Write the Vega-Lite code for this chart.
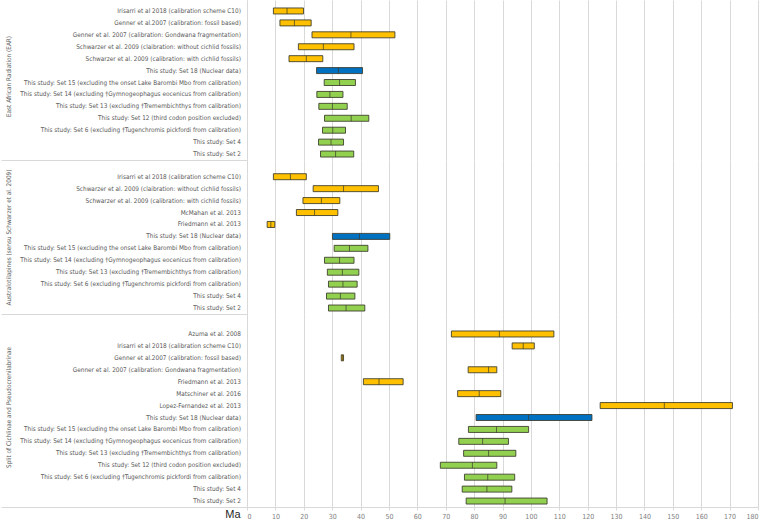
{
  "$schema": "https://vega.github.io/schema/vega-lite/v6.json",
  "autosize": {"type": "pad"},
  "padding": 0,
  "background": "#ffffff",
  "config": {"view": {"stroke": null}},
  "bounds": "flush",
  "spacing": 0,
  "resolve": {"scale": {"y": "independent"}},
  "datasets": {
    "rows": [
      {"group": "EAR", "label": "Irisarri et al 2018 (calibration scheme C10)", "type": "pub", "lo": 9.3, "med": 14.1, "hi": 19.9},
      {"group": "EAR", "label": "Genner et al.2007 (calibration: fossil based)", "type": "pub", "lo": 11.6, "med": 16.7, "hi": 22.6},
      {"group": "EAR", "label": "Genner et al. 2007 (calibration: Gondwana fragmentation)", "type": "pub", "lo": 22.9, "med": 36.6, "hi": 52.1},
      {"group": "EAR", "label": "Schwarzer et al. 2009 (claibration: without cichlid fossils)", "type": "pub", "lo": 18.1, "med": 26.9, "hi": 37.7},
      {"group": "EAR", "label": "Schwarzer et al. 2009 (calibration: with cichlid fossils)", "type": "pub", "lo": 14.8, "med": 20.9, "hi": 26.7},
      {"group": "EAR", "label": "This study: Set 18 (Nuclear data)", "type": "nuc", "lo": 24.5, "med": 32.2, "hi": 40.7},
      {"group": "EAR", "label": "This study: Set 15 (excluding the onset Lake Barombi Mbo from calibration)", "type": "set", "lo": 27.2, "med": 32.6, "hi": 38.2},
      {"group": "EAR", "label": "This study: Set 14 (excluding †Gymnogeophagus eocenicus from calibration)", "type": "set", "lo": 24.6, "med": 29.2, "hi": 33.8},
      {"group": "EAR", "label": "This study: Set 13 (excluding †Tremembichthys from calibration)", "type": "set", "lo": 25.3, "med": 30.1, "hi": 35.3},
      {"group": "EAR", "label": "This study: Set 12 (third codon position excluded)", "type": "set", "lo": 27.3, "med": 36.7, "hi": 42.9},
      {"group": "EAR", "label": "This study: Set 6 (excluding †Tugenchromis pickfordi from calibration)", "type": "set", "lo": 26.6, "med": 30.2, "hi": 34.7},
      {"group": "EAR", "label": "This study: Set 4", "type": "set", "lo": 25.2, "med": 29.6, "hi": 34.0},
      {"group": "EAR", "label": "This study: Set 2", "type": "set", "lo": 25.9, "med": 31.2, "hi": 37.6},
      {"group": "AUS", "label": "Irisarri et al 2018 (calibration scheme C10)", "type": "pub", "lo": 9.3, "med": 15.3, "hi": 20.9},
      {"group": "AUS", "label": "Schwarzer et al. 2009 (claibration: without cichlid fossils)", "type": "pub", "lo": 23.3, "med": 34.0, "hi": 46.3},
      {"group": "AUS", "label": "Schwarzer et al. 2009 (calibration: with cichlid fossils)", "type": "pub", "lo": 19.7, "med": 26.2, "hi": 32.7},
      {"group": "AUS", "label": "McMahan et al. 2013", "type": "pub", "lo": 17.4, "med": 23.8, "hi": 32.0},
      {"group": "AUS", "label": "Friedmann et al. 2013", "type": "pub", "lo": 7.1, "med": 8.4, "hi": 9.8},
      {"group": "AUS", "label": "This study: Set 18 (Nuclear data)", "type": "nuc", "lo": 30.1, "med": 39.6, "hi": 50.3},
      {"group": "AUS", "label": "This study: Set 15 (excluding the onset Lake Barombi Mbo from calibration)", "type": "set", "lo": 30.7, "med": 36.1, "hi": 42.6},
      {"group": "AUS", "label": "This study: Set 14 (excluding †Gymnogeophagus eocenicus from calibration)", "type": "set", "lo": 27.3, "med": 32.6, "hi": 37.7},
      {"group": "AUS", "label": "This study: Set 13 (excluding †Tremembichthys from calibration)", "type": "set", "lo": 28.3, "med": 33.6, "hi": 39.4},
      {"group": "AUS", "label": "This study: Set 6 (excluding †Tugenchromis pickfordi from calibration)", "type": "set", "lo": 28.7, "med": 33.8, "hi": 38.8},
      {"group": "AUS", "label": "This study: Set 4", "type": "set", "lo": 28.0, "med": 32.9, "hi": 38.0},
      {"group": "AUS", "label": "This study: Set 2", "type": "set", "lo": 28.7, "med": 34.9, "hi": 41.5},
      {"group": "SPL", "label": "Azuma et al. 2008", "type": "pub", "lo": 72.0, "med": 88.9, "hi": 108.1},
      {"group": "SPL", "label": "Irisarri et al 2018 (calibration scheme C10)", "type": "pub", "lo": 93.4, "med": 97.3, "hi": 101.2},
      {"group": "SPL", "label": "Genner et al.2007 (calibration: fossil based)", "type": "pub", "lo": 33.2, "med": 33.6, "hi": 34.0},
      {"group": "SPL", "label": "Genner et al. 2007 (calibration: Gondwana fragmentation)", "type": "pub", "lo": 77.9, "med": 85.1, "hi": 88.0},
      {"group": "SPL", "label": "Friedmann et al. 2013", "type": "pub", "lo": 41.0, "med": 46.5, "hi": 55.0},
      {"group": "SPL", "label": "Matschiner et al. 2016", "type": "pub", "lo": 74.2, "med": 81.8, "hi": 89.4},
      {"group": "SPL", "label": "Lopez-Fernandez et al. 2013", "type": "pub", "lo": 124.4, "med": 147.0, "hi": 171.0},
      {"group": "SPL", "label": "This study: Set 18 (Nuclear data)", "type": "nuc", "lo": 80.7, "med": 99.2, "hi": 121.5},
      {"group": "SPL", "label": "This study: Set 15 (excluding the onset Lake Barombi Mbo from calibration)", "type": "set", "lo": 78.0, "med": 87.9, "hi": 99.2},
      {"group": "SPL", "label": "This study: Set 14 (excluding †Gymnogeophagus eocenicus from calibration)", "type": "set", "lo": 74.6, "med": 83.0, "hi": 92.1},
      {"group": "SPL", "label": "This study: Set 13 (excluding †Tremembichthys from calibration)", "type": "set", "lo": 76.3, "med": 85.1, "hi": 94.7},
      {"group": "SPL", "label": "This study: Set 12 (third codon position excluded)", "type": "set", "lo": 68.1, "med": 79.4, "hi": 88.0},
      {"group": "SPL", "label": "This study: Set 6 (excluding †Tugenchromis pickfordi from calibration)", "type": "set", "lo": 76.6, "med": 84.8, "hi": 94.3},
      {"group": "SPL", "label": "This study: Set 4", "type": "set", "lo": 75.8, "med": 84.5, "hi": 93.3},
      {"group": "SPL", "label": "This study: Set 2", "type": "set", "lo": 77.2, "med": 90.9, "hi": 105.7}
    ]
  },
  "vconcat": [
    {
      "width": 511, "height": 160,
      "data": {"name": "rows"},
      "transform": [{"filter": "datum.group === 'EAR'"}],
      "encoding": {
        "y": {"field": "label", "type": "nominal", "sort": null,
          "scale": {"paddingInner": 0, "paddingOuter": 0.21, "align": 1},
          "axis": {"title": "East African Radiation (EAR)", "titleX": -238.5, "titleY": 76, "titleAngle": -90, "titleBaseline": "middle", "titleAlign": "center", "titleFontSize": 6.4, "titleFontWeight": "normal", "titleColor": "#595959", "titleFont": "Liberation Sans Narrow, DejaVu Sans Condensed, Roboto, sans-serif",
            "labelFont": "Liberation Sans Narrow, DejaVu Sans Condensed, Roboto, sans-serif", "labelFontSize": 6.4, "labelColor": "#595959", "labelLimit": 300, "labelPadding": -239.4, "labelOverlap": false,
            "ticks": true, "bandPosition": 1, "tickSize": 246, "tickColor": "#d9d9d9", "tickOpacity": {"condition": {"test": "datum.value === 'This study: Set 2'", "value": 1}, "value": 0},
            "domainColor": "#d9d9d9", "grid": false}
        }
      },
      "layer": [
        {"mark": {"type": "bar", "height": 6, "stroke": "#3a3a2a", "strokeWidth": 1, "strokeOpacity": 0.85},
          "encoding": {
            "x": {"field": "lo", "type": "quantitative", "scale": {"domain": [0, 180], "nice": false}, "axis": {"grid": true, "gridColor": "#d9d9d9", "labels": false, "ticks": false, "domain": false, "title": null, "values": [0,10,20,30,40,50,60,70,80,90,100,110,120,130,140,150,160,170,180]}},
            "x2": {"field": "hi"},
            "color": {"field": "type", "type": "nominal", "scale": {"domain": ["pub", "nuc", "set"], "range": ["#FFC000", "#0070C0", "#92D050"]}, "legend": null}
          }},
        {"mark": {"type": "tick", "size": 6, "thickness": 1, "color": "#3a3a2a"},
          "encoding": {"x": {"field": "med", "type": "quantitative", "scale": {"domain": [0, 180], "nice": false}, "axis": {"grid": true, "gridColor": "#d9d9d9", "labels": false, "ticks": false, "domain": false, "title": null, "values": [0,10,20,30,40,50,60,70,80,90,100,110,120,130,140,150,160,170,180]}}}}
      ]
    },
    {
      "width": 511, "height": 154,
      "data": {"name": "rows"},
      "transform": [{"filter": "datum.group === 'AUS'"}],
      "encoding": {
        "y": {"field": "label", "type": "nominal", "sort": null,
          "scale": {"paddingInner": 0, "paddingOuter": 0.45, "align": 1},
          "axis": {"title": "Australotilapines (sensu Schwarzer et al. 2009)", "titleX": -238.5, "titleY": 77, "titleAngle": -90, "titleBaseline": "middle", "titleAlign": "center", "titleFontSize": 6.4, "titleFontWeight": "normal", "titleColor": "#595959", "titleFont": "Liberation Sans Narrow, DejaVu Sans Condensed, Roboto, sans-serif",
            "labelFont": "Liberation Sans Narrow, DejaVu Sans Condensed, Roboto, sans-serif", "labelFontSize": 6.4, "labelColor": "#595959", "labelLimit": 300, "labelPadding": -239.4, "labelOverlap": false,
            "ticks": true, "bandPosition": 1, "tickSize": 246, "tickColor": "#d9d9d9", "tickOpacity": {"condition": {"test": "datum.value === 'This study: Set 2'", "value": 1}, "value": 0},
            "domainColor": "#d9d9d9", "grid": false}
        }
      },
      "layer": [
        {"mark": {"type": "bar", "height": 6, "stroke": "#3a3a2a", "strokeWidth": 1, "strokeOpacity": 0.85},
          "encoding": {
            "x": {"field": "lo", "type": "quantitative", "scale": {"domain": [0, 180], "nice": false}, "axis": {"grid": true, "gridColor": "#d9d9d9", "labels": false, "ticks": false, "domain": false, "title": null, "values": [0,10,20,30,40,50,60,70,80,90,100,110,120,130,140,150,160,170,180]}},
            "x2": {"field": "hi"},
            "color": {"field": "type", "type": "nominal", "scale": {"domain": ["pub", "nuc", "set"], "range": ["#FFC000", "#0070C0", "#92D050"]}, "legend": null}
          }},
        {"mark": {"type": "tick", "size": 6, "thickness": 1, "color": "#3a3a2a"},
          "encoding": {"x": {"field": "med", "type": "quantitative", "scale": {"domain": [0, 180], "nice": false}, "axis": {"grid": true, "gridColor": "#d9d9d9", "labels": false, "ticks": false, "domain": false, "title": null, "values": [0,10,20,30,40,50,60,70,80,90,100,110,120,130,140,150,160,170,180]}}}}
      ]
    },
    {
      "width": 511, "height": 193,
      "data": {"name": "rows"},
      "transform": [{"filter": "datum.group === 'SPL'"}],
      "encoding": {
        "y": {"field": "label", "type": "nominal", "sort": null,
          "scale": {"paddingInner": 0, "paddingOuter": 0.587, "align": 1},
          "axis": {"title": "Split of Cichlinae and Pseudocrenilabrinae", "titleX": -238.5, "titleY": 93, "titleAngle": -90, "titleBaseline": "middle", "titleAlign": "center", "titleFontSize": 6.4, "titleFontWeight": "normal", "titleColor": "#595959", "titleFont": "Liberation Sans Narrow, DejaVu Sans Condensed, Roboto, sans-serif",
            "labelFont": "Liberation Sans Narrow, DejaVu Sans Condensed, Roboto, sans-serif", "labelFontSize": 6.4, "labelColor": "#595959", "labelLimit": 300, "labelPadding": -239.4, "labelOverlap": false,
            "ticks": true, "bandPosition": 1, "tickSize": 246, "tickColor": "#d9d9d9", "tickOpacity": {"condition": {"test": "datum.value === 'This study: Set 2'", "value": 1}, "value": 0},
            "domainColor": "#d9d9d9", "grid": false}
        }
      },
      "layer": [
        {"mark": {"type": "bar", "height": 6, "stroke": "#3a3a2a", "strokeWidth": 1, "strokeOpacity": 0.85},
          "encoding": {
            "x": {"field": "lo", "type": "quantitative", "scale": {"domain": [0, 180], "nice": false},
              "axis": {"grid": true, "gridColor": "#d9d9d9", "values": [0,10,20,30,40,50,60,70,80,90,100,110,120,130,140,150,160,170,180], "labelOverlap": false,
                "labelFont": "Liberation Sans Narrow, DejaVu Sans Condensed, Roboto, sans-serif", "labelFontSize": 7, "labelColor": "#808080", "labelPadding": 2,
                "domainColor": "#d9d9d9", "ticks": true, "tickColor": "#d9d9d9", "tickSize": 3,
                "title": "Ma", "titleFont": "Liberation Sans, Arial, sans-serif", "titleFontSize": 11, "titleFontWeight": "normal", "titleColor": "#262626", "titleX": -7, "titleY": 10.5, "titleAlign": "right", "titleBaseline": "alphabetic", "titleAngle": 0}},
            "x2": {"field": "hi"},
            "color": {"field": "type", "type": "nominal", "scale": {"domain": ["pub", "nuc", "set"], "range": ["#FFC000", "#0070C0", "#92D050"]}, "legend": null}
          }},
        {"mark": {"type": "tick", "size": 6, "thickness": 1, "color": "#3a3a2a"},
          "encoding": {"x": {"field": "med", "type": "quantitative", "scale": {"domain": [0, 180], "nice": false},
              "axis": {"grid": true, "gridColor": "#d9d9d9", "values": [0,10,20,30,40,50,60,70,80,90,100,110,120,130,140,150,160,170,180], "labelOverlap": false,
                "labelFont": "Liberation Sans Narrow, DejaVu Sans Condensed, Roboto, sans-serif", "labelFontSize": 7, "labelColor": "#808080", "labelPadding": 2,
                "domainColor": "#d9d9d9", "ticks": true, "tickColor": "#d9d9d9", "tickSize": 3,
                "title": "Ma", "titleFont": "Liberation Sans, Arial, sans-serif", "titleFontSize": 11, "titleFontWeight": "normal", "titleColor": "#262626", "titleX": -7, "titleY": 10.5, "titleAlign": "right", "titleBaseline": "alphabetic", "titleAngle": 0}}}}
      ]
    }
  ]
}
